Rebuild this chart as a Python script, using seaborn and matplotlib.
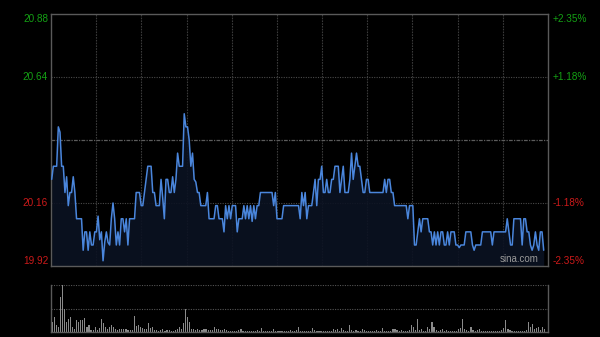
import numpy as np
import pandas as pd
import matplotlib
matplotlib.use("Agg")
import matplotlib.pyplot as plt
import matplotlib.transforms as mtransforms
import seaborn as sns

# ---------------- data ----------------
prev_close = 20.40
left_ticks = [19.92, 20.16, 20.64, 20.88]
left_labels = ["19.92", "20.16", "20.64", "20.88"]
right_labels = ["-2.35%", "-1.18%", "+1.18%", "+2.35%"]

price_am1 = [20.25, 20.30, 20.30, 20.30, 20.45, 20.43, 20.30, 20.30, 20.20, 20.26,
             20.15, 20.20, 20.20, 20.26, 20.20, 20.10, 20.10, 20.10, 20.10, 19.98,
             20.05, 20.05, 19.98, 20.05, 20.00, 20.00, 20.05, 20.05, 20.11, 20.02,
             20.05, 19.94, 20.01, 20.05, 20.01, 20.00, 20.10, 20.16, 20.10, 20.00,
             20.05, 20.00, 20.10, 20.10, 20.05, 20.10, 20.00, 20.10, 20.10, 20.10,
             20.10, 20.20, 20.20, 20.20, 20.15, 20.15, 20.20, 20.25, 20.30, 20.30]
price_am2 = [20.30, 20.20, 20.20, 20.15, 20.15, 20.15, 20.25, 20.18, 20.10, 20.25,
             20.25, 20.20, 20.20, 20.26, 20.20, 20.25, 20.35, 20.30, 20.30, 20.30,
             20.50, 20.45, 20.45, 20.40, 20.30, 20.35, 20.25, 20.24, 20.20, 20.20,
             20.15, 20.15, 20.15, 20.15, 20.20, 20.10, 20.10, 20.10, 20.10, 20.15,
             20.15, 20.10, 20.10, 20.10, 20.05, 20.15, 20.10, 20.15, 20.10, 20.15,
             20.15, 20.15, 20.05, 20.10, 20.10, 20.10, 20.15, 20.10, 20.15]
price_mid = [20.10, 20.15, 20.09, 20.15, 20.10, 20.15, 20.15, 20.20,
             20.20, 20.20, 20.20, 20.20, 20.20, 20.20, 20.20,
             20.15, 20.20, 20.10, 20.10, 20.10, 20.10, 20.15,
             20.15, 20.15, 20.15, 20.15, 20.15, 20.15, 20.15, 20.15, 20.15,
             20.10, 20.20, 20.15, 20.20, 20.10, 20.15, 20.15, 20.15, 20.20,
             20.25, 20.15, 20.25, 20.25, 20.30, 20.20, 20.20, 20.25, 20.20, 20.20,
             20.25, 20.25, 20.30, 20.30, 20.30, 20.20, 20.25, 20.30, 20.20, 20.20]
price_pm1 = [20.20, 20.25, 20.35, 20.25, 20.30, 20.35, 20.30, 20.30, 20.25, 20.20,
             20.20, 20.25, 20.25, 20.20, 20.20, 20.20, 20.20, 20.20, 20.20, 20.20,
             20.20, 20.20, 20.25, 20.20, 20.25, 20.25, 20.20, 20.20, 20.15, 20.15,
             20.15, 20.15, 20.15, 20.15, 20.15, 20.15, 20.10, 20.15, 20.15, 20.15,
             20.00, 20.00, 20.05, 20.10, 20.05, 20.10, 20.10, 20.10, 20.10, 20.05,
             20.05, 20.00, 20.05, 20.00, 20.05, 20.00, 20.05, 20.05, 20.00]
price_pm2 = [20.00, 20.05, 20.00, 20.05, 20.05, 20.05, 20.00, 20.00, 19.99, 20.00,
             20.00, 20.00, 20.05, 20.05, 20.05, 20.05, 20.00, 19.98, 20.00, 20.00,
             20.00, 20.00, 20.05, 20.05, 20.05, 20.05, 20.05, 20.05, 20.00, 20.05,
             20.05, 20.05, 20.05, 20.05, 20.05, 20.05, 20.05, 20.10, 20.05, 20.00,
             20.00, 20.10, 20.10, 20.10, 20.10, 20.10, 20.00, 20.10, 20.10, 20.05,
             20.05, 20.00, 19.98, 20.00, 20.05, 20.00, 19.98, 20.05, 20.05, 19.98]

volume = [30, 45, 20, 15, 105, 142, 70, 30, 40, 45, 15, 10, 35, 30, 35, 35, 42, 15, 20, 5,
          5, 15, 5, 12, 40, 28, 15, 8, 15, 20, 15, 10, 5, 8, 10, 8, 10, 5, 5, 5,
          48, 18, 20, 15, 12, 10, 10, 28, 12, 15, 5, 5, 3, 5, 8, 3, 5, 5, 3, 3,
          5, 10, 15, 10, 28, 68, 45, 30, 10, 8, 5, 10, 5, 5, 10, 8, 5, 5, 5, 15,
          10, 8, 5, 5, 8, 5, 3, 3, 3, 3, 3, 5, 8, 3, 3, 3, 3, 3, 3, 3,
          5, 3, 12, 3, 3, 3, 3, 3, 8, 3, 3, 3, 3, 3, 3, 3, 5, 3, 3, 5,
          15, 4, 3, 3, 3, 4, 3, 12, 5, 3, 3, 3, 3, 3, 3, 3, 3, 8, 5, 10,
          3, 12, 5, 3, 3, 20, 5, 3, 5, 3, 3, 10, 5, 3, 3, 4, 3, 3, 5, 3,
          3, 12, 3, 3, 3, 3, 8, 10, 5, 3, 5, 3, 3, 3, 5, 20, 15, 5, 40, 5,
          8, 3, 3, 15, 8, 30, 15, 5, 3, 5, 10, 3, 5, 3, 3, 3, 3, 3, 8, 12,
          40, 10, 5, 3, 15, 5, 3, 5, 10, 3, 3, 3, 3, 3, 3, 3, 3, 3, 3, 5,
          12, 35, 10, 5, 3, 3, 3, 3, 3, 3, 3, 5, 30, 15, 25, 10, 12, 15, 5, 15, 10]

price = price_am1 + price_am2 + price_mid + price_pm1 + price_pm2
df_p = pd.DataFrame({"t": np.arange(len(price)), "price": price})
df_v = pd.DataFrame({"m": np.arange(len(volume)), "vol": volume})

# ---------------- style ----------------
sns.set_theme(style="dark")
plt.rcParams["font.family"] = ["Liberation Sans", "DejaVu Sans"]

BG = "#000000"
GREEN = "#14a014"
RED = "#cc1a1a"
SPINE = "#5a5a5a"
GRID = "#3a3a3a"

fig = plt.figure(figsize=(6.0, 3.37), dpi=100, facecolor=BG)
L, R = 51 / 600, 548 / 600
ax = fig.add_axes([L, 1 - 266 / 337, R - L, (266 - 14) / 337])
axv = fig.add_axes([L, 1 - 332 / 337, R - L, (332 - 285) / 337])
for a in (ax, axv):
    a.set_facecolor(BG)
    a.grid(False)

# ---- main price panel ----
n = len(price)
step = 492 / (n - 1)
x0, x1 = -0.7 / step, (n - 1) + 4.3 / step
ax.set_xlim(x0, x1)
ax.set_ylim(left_ticks[0], left_ticks[-1])

for k in range(1, 11):
    ax.axvline(x0 + k * (x1 - x0) / 11, color=GRID, lw=0.8, ls=(0, (1.5, 1)), zorder=1)
for yv in (left_ticks[1], left_ticks[2]):
    ax.axhline(yv, color="#4a4a4a", lw=0.8, ls=(0, (1, 1.2)), zorder=1)
ax.axhline(prev_close, color="#5c5c5c", lw=0.9, ls=(0, (3, 1, 1, 1)), zorder=1)

ax.fill_between(df_p["t"], df_p["price"], left_ticks[0], color="#0b1222", alpha=0.9,
                lw=0, zorder=2)
sns.lineplot(data=df_p, x="t", y="price", ax=ax, color="#4a86dc", lw=1.1, zorder=3)

ax.set_xticks([])
ax.set_yticks([])
ax.set_xlabel("")
ax.set_ylabel("")
for s in ax.spines.values():
    s.set_visible(True)
    s.set_color(SPINE)
    s.set_linewidth(1.0)

trans = mtransforms.blended_transform_factory(ax.transAxes, ax.transData)
vas = ["bottom", "center", "center", "top"]
cols = [RED, RED, GREEN, GREEN]
for yv, lab, rlab, va, c in zip(left_ticks, left_labels, right_labels, vas, cols):
    ax.text(-0.006, yv, lab, transform=trans, ha="right", va=va, color=c, fontsize=7.2)
    ax.text(1.010, yv, rlab, transform=trans, ha="left", va=va, color=c, fontsize=7.2)

ax.text(0.982, 0.008, "sina.com", transform=ax.transAxes, ha="right", va="bottom",
        color="#9a9a9a", fontsize=7)

# ---- volume panel ----
nv = len(volume)
vmax = max(volume)
axv.set_ylim(0, vmax)
axv.axhline(vmax, color="#555555", lw=0.8, ls=(0, (1, 1.2)), zorder=1)
axv.axhline(vmax / 2, color="#555555", lw=0.8, ls=(0, (1, 1.2)), zorder=1)
sns.barplot(data=df_v, x="m", y="vol", ax=axv, native_scale=True, color="#8a8a8a",
            width=0.55, errorbar=None, saturation=1, linewidth=0, zorder=2)
axv.set_xlim(-0.5, nv - 0.5 + 1.0)
axv.set_xticks([])
axv.set_yticks([])
axv.set_xlabel("")
axv.set_ylabel("")
for side, s in axv.spines.items():
    s.set_color(SPINE)
    s.set_linewidth(1.0)
    s.set_visible(side != "top")

fig.savefig("out.png", dpi=100, facecolor=BG)
